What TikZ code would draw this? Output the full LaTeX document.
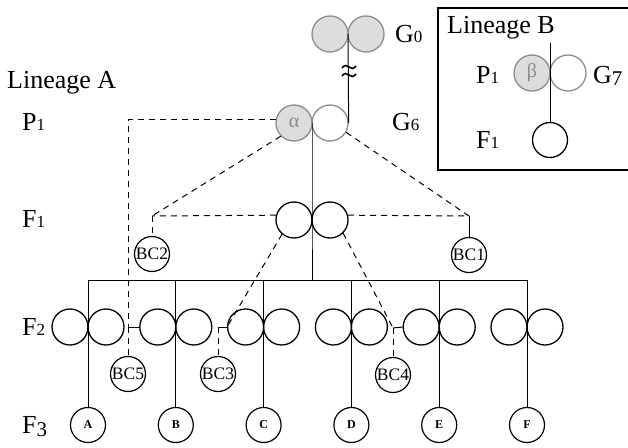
\documentclass[tikz,border=0pt]{standalone}
\usepackage{fontspec}
\setmainfont{Liberation Serif}
\usetikzlibrary{calc}
\definecolor{shade}{HTML}{DDDDDD}
\definecolor{rim}{HTML}{8C8C8C}
\definecolor{greek}{HTML}{8A8A8A}
% small old-style-like generation digits
\newcommand\gd[1]{{\fontsize{17}{17}\selectfont #1}}
\newcommand\gdlow[2]{\raisebox{-#2pt}{\fontsize{21}{21}\selectfont #1}}
\begin{document}
\begin{tikzpicture}[x=1pt,y=-1pt,
  half/.style={circle,draw,line width=1.3pt,minimum size=36pt,inner sep=0pt},
  grayhalf/.style={half,draw=rim,fill=shade,text=greek,font=\fontsize{20}{20}\selectfont},
  openhalf/.style={half,draw=rim},
  kid/.style={circle,draw,line width=1.2pt,minimum size=35pt,inner sep=0pt,
    font=\fontsize{12}{12}\selectfont\bfseries},
  bcnode/.style={circle,draw,line width=1.2pt,minimum size=35pt,inner sep=0pt,
    font=\fontsize{17.5}{17.5}\selectfont},
  link/.style={line width=1pt},
  cross/.style={line width=1pt,dash pattern=on 6pt off 5pt},
  lab/.style={anchor=base west,inner sep=0pt,font=\fontsize{26}{26}\selectfont}]
\useasboundingbox (0,0) rectangle (628,447);

% ---- generation labels, lineage A ----
\node[lab] (linA) at (7,88) {Lineage A};
\node[lab] (lP1) at (22,130) {P\gd{1}};
\node[lab] (lF1) at (22,227) {F\gd{1}};
\node[lab] (lF2) at (22,335) {F\gd{2}};
\node[lab] (lF3) at (22,433) {F\gdlow{3}{3}};
\node[lab] (lG0) at (395,42) {G\gd{0}};
\node[lab] (lG6) at (392,130) {G\gd{6}};

% ---- ancestors ----
\node[grayhalf] (G0a) at (330,34) {};
\node[grayhalf] (G0b) at (366,34) {};
\coordinate (g0j) at (348,34);
\node[grayhalf] (Ga) at (294,123) {α};
\node[openhalf] (Gb) at (330,123) {};
\coordinate (g6j) at (312,123);

% ---- F1 ----
\node[half] (F1a) at (294,220) {};
\node[half] (F1b) at (330,220) {};
\coordinate (f1j) at (312,220);

% G0 ... G6 descent with break mark
\draw[link] (g0j) -- (Gb.east);
\foreach \yy in {67,75}
  \draw[line width=1.6pt] (342,\yy+1) sin (345.5,\yy-1.5) cos (349,\yy) sin (352.5,\yy+1.5) cos (356,\yy-1);

% G6 -> F1 -> F2 bar
\coordinate (barL) at (88,280);
\coordinate (barR) at (527,280);
\coordinate (barM) at (312,280);
\draw[link] (g6j) -- (f1j) -- (barM);
\draw[link] (barL) -- (barR);

% ---- F2 pairs and F3 offspring ----
\foreach \i/\ch in {0/A,1/B,2/C,3/D,4/E,5/F}{
  \pgfmathsetmacro{\xx}{88+87.8*\i}
  \node[half] (L\ch) at (\xx-18,327) {};
  \node[half] (R\ch) at (\xx+18,327) {};
  \node[kid] (K\ch) at (\xx,425) {\ch};
  \coordinate (T\ch) at (\xx,280);
  \draw[link] (T\ch) -- (K\ch.north);
}

% ---- backcross individuals ----
\node[bcnode] (BC1) at (469,255) {BC1};
\node[bcnode] (BC2) at (152,254) {BC2};
\node[bcnode] (BC3) at (218,374) {BC3};
\node[bcnode] (BC4) at (393,375) {BC4};
\node[bcnode] (BC5) at (128,374) {BC5};

\coordinate (c1) at (469,216);
\coordinate (c2) at (152,216);
\coordinate (c3) at (218,327);
\coordinate (c4) at (393,328);
\coordinate (c5) at (128,327);

% BC2
\draw[cross] (Ga.225) -- (c2);
\draw[cross] (F1a.165) -- (c2);
\draw[cross] (c2) -- (BC2.north);
% BC1
\draw[cross] (Gb.-30) -- (c1);
\draw[cross] (F1b.15) -- (c1);
\draw[link] (c1) -- (BC1.north);
% BC5
\draw[cross] (Ga.170) -| (c5);
\draw[link] (c5) -- (LB.west);
\draw[cross] (c5) -- (BC5.north);
% BC3
\draw[cross] (F1a.230) -- (LC.west);
\draw[link] (LC.west) -- (c3);
\draw[cross] (c3) -- (BC3.north);
% BC4
\draw[cross] (F1b.-45) -- (c4);
\draw[link] (c4) -- (LE.west);
\draw[cross] (c4) -- (BC4.north);

% ---- lineage B inset ----
\draw[line width=1.2pt] (438,8) rectangle (660,170);
\node[lab] (linB) at (447,33) {Lineage B};
\node[lab] (bP1) at (476,83) {P\gd{1}};
\node[lab] (bF1) at (476,148) {F\gd{1}};
\node[lab] (bG7) at (593,83) {G\gdlow{7}{2}};
\node[grayhalf] (Ba) at (532,73) {β};
\node[openhalf] (Bb) at (568,73) {};
\node[circle,draw,line width=1.3pt,minimum size=35pt,inner sep=0pt] (BF1) at (550,140) {};
\coordinate (btop) at (550,43);
\draw[link] (btop) -- (BF1.north);
\end{tikzpicture}
\end{document}
